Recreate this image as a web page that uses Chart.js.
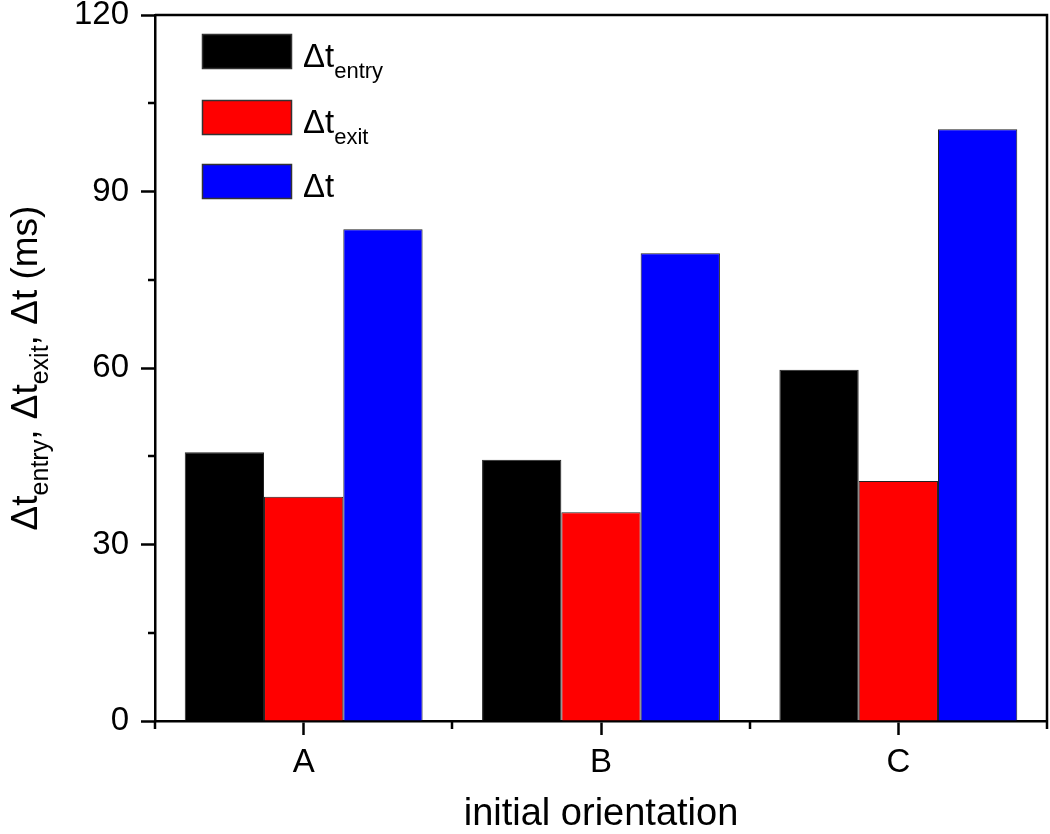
<!DOCTYPE html>
<html>
<head>
<meta charset="utf-8">
<script src="https://cdn.jsdelivr.net/npm/chart.js@4.4.0/dist/chart.umd.min.js"></script>
<style>
  body { margin: 0; background: #fff; }
</style>
</head>
<body>
<canvas id="myChart" width="1050" height="834"></canvas>
<script>
// values (ms)
const categories = ['A', 'B', 'C']
const entry_values = [45.7, 44.4, 59.7]
const exit_values = [38.1, 35.5, 40.8]
const total_values = [83.6, 79.5, 100.6]
const series_subs = ['entry', 'exit', '']
const series_colors = ['#000000', '#ff0000', '#0000ff']
const y_minor_ticks = [15, 45, 75, 105]

const FONT = "'Liberation Sans', Arial, sans-serif"

// draws "Δt" followed by a subscript, returns the width used
const drawDelta = (ctx, x, y, sub, size, subSize, subDrop) => {
  ctx.font = `${size}px ${FONT}`
  ctx.fillText('Δt', x, y)
  let w = ctx.measureText('Δt').width
  if (sub) {
    ctx.font = `${subSize}px ${FONT}`
    ctx.fillText(sub, x + w, y + subDrop)
    w += ctx.measureText(sub).width
  }
  return w
}

const extras = {
  id: 'extras',
  afterDraw(chart) {
    const ctx = chart.ctx
    const area = chart.chartArea
    const xs = chart.scales.x
    const ys = chart.scales.y
    ctx.save()
    ctx.strokeStyle = '#000'
    ctx.lineWidth = 2.5
    // frame top and right
    ctx.beginPath()
    ctx.moveTo(area.left, area.top)
    ctx.lineTo(area.right, area.top)
    ctx.lineTo(area.right, area.bottom)
    ctx.stroke()
    // minor ticks
    ctx.beginPath()
    y_minor_ticks.forEach(v => {
      const py = Math.round(ys.getPixelForValue(v))
      ctx.moveTo(area.left, py)
      ctx.lineTo(area.left - 7, py)
    })
    for (let i = 0; i <= categories.length; i++) {
      const px = Math.round(xs.getPixelForValue(i - 0.5))
      ctx.moveTo(px, area.bottom)
      ctx.lineTo(px, area.bottom + 8)
    }
    ctx.stroke()

    // legend
    ctx.fillStyle = '#000'
    ctx.textBaseline = 'alphabetic'
    ctx.textAlign = 'left'
    const rows = [34, 100, 164]
    chart.data.datasets.forEach((ds, i) => {
      const top = rows[i]
      ctx.fillStyle = ds.backgroundColor
      ctx.fillRect(202, top, 90, 35)
      ctx.lineWidth = 1.5
      ctx.strokeStyle = '#333'
      ctx.strokeRect(202.5, top + 0.5, 89, 34)
      ctx.fillStyle = '#000'
      drawDelta(ctx, 303, top + 33, series_subs[i], 33, 22, 11)
    })

    // y axis title with subscripts
    ctx.translate(37, (area.top + area.bottom) / 2)
    ctx.rotate(-Math.PI / 2)
    const parts = [['Δt', 'entry', ', '], ['Δt', 'exit', ', '], ['Δt', '', ' (ms)']]
    const mainSize = 37, subSize = 25
    let total = 0
    parts.forEach(p => {
      ctx.font = `${mainSize}px ${FONT}`
      total += ctx.measureText(p[0] + p[2]).width
      ctx.font = `${subSize}px ${FONT}`
      total += ctx.measureText(p[1]).width
    })
    let x = -total / 2
    parts.forEach(p => {
      x += drawDelta(ctx, x, 0, p[1], mainSize, subSize, 11)
      ctx.font = `${mainSize}px ${FONT}`
      ctx.fillText(p[2], x, 0)
      x += ctx.measureText(p[2]).width
    })
    ctx.restore()
  }
}

const data = {
  labels: categories,
  datasets: [
    { label: 'Δt entry', data: entry_values, backgroundColor: series_colors[0] },
    { label: 'Δt exit', data: exit_values, backgroundColor: series_colors[1] },
    { label: 'Δt', data: total_values, backgroundColor: series_colors[2] }
  ].map(d => Object.assign(d, { borderColor: '#222', borderWidth: 1 }))
}

const config = {
  type: 'bar',
  data: data,
  options: {
    responsive: false,
    animation: false,
    layout: { padding: { left: 0, right: 3, top: 15, bottom: 0 } },
    datasets: { bar: { categoryPercentage: 0.8, barPercentage: 1.0 } },
    plugins: { legend: { display: false }, tooltip: { enabled: false } },
    scales: {
      x: {
        grid: { drawOnChartArea: false, offset: false, tickLength: 14, tickWidth: 2.5, tickColor: '#000' },
        border: { color: '#000', width: 2.5 },
        ticks: { color: '#000', font: { family: FONT, size: 33, lineHeight: 1 }, padding: 11 },
        title: { display: true, text: 'initial orientation', color: '#000',
                 font: { family: FONT, size: 38, lineHeight: 1 }, padding: 0 },
        afterFit: s => { s.height = 113; s.paddingLeft = 0; s.paddingRight = 0 }
      },
      y: {
        min: 0,
        max: 120,
        grid: { drawOnChartArea: false, tickLength: 14, tickWidth: 2.5, tickColor: '#000' },
        border: { color: '#000', width: 2.5 },
        ticks: { stepSize: 30, color: '#000', font: { family: FONT, size: 33, lineHeight: 1 }, padding: 12 },
        afterFit: s => { s.width = 155; s.paddingTop = 0; s.paddingBottom = 0 }
      }
    }
  },
  plugins: [extras]
}

const myChart = new Chart(document.getElementById('myChart'), config)
</script>
</body>
</html>
